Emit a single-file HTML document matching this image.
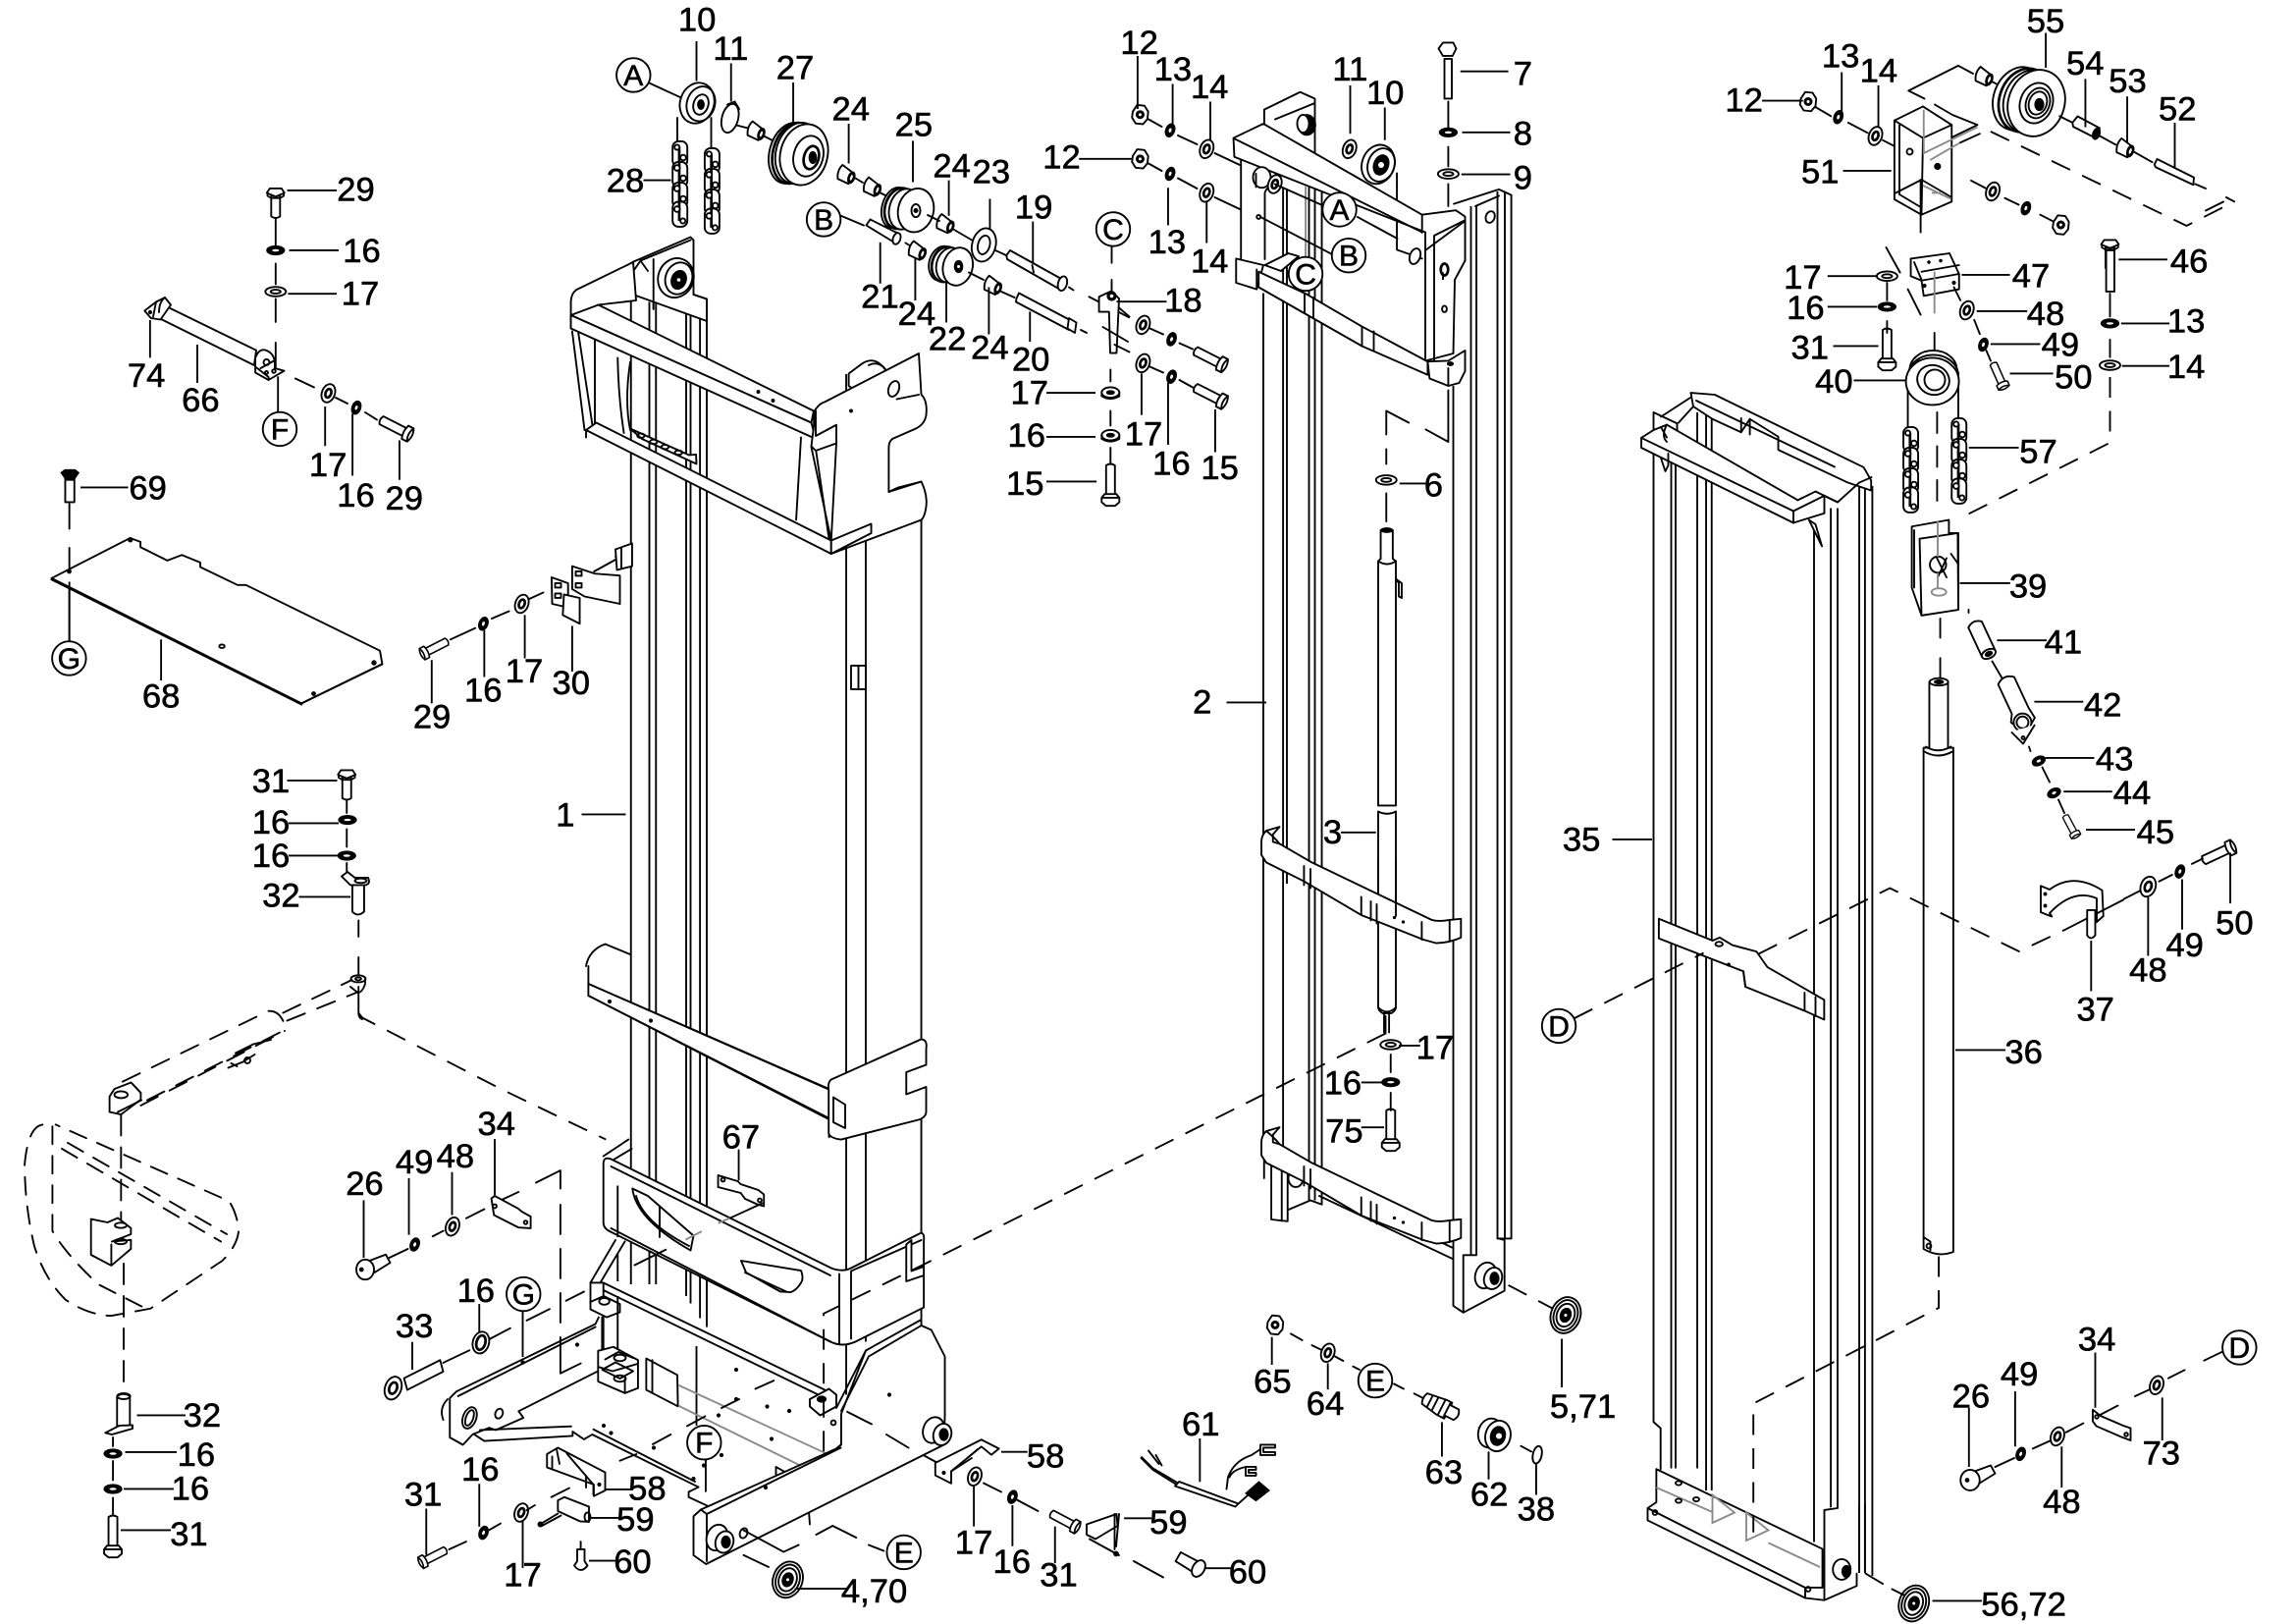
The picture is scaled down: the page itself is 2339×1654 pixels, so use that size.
<!DOCTYPE html>
<html><head><meta charset="utf-8"><title>Mast exploded view</title>
<style>
html,body{margin:0;padding:0;background:#fff}
svg{display:block}
text{font-family:"Liberation Sans",sans-serif;fill:#000;stroke:#000;stroke-width:.4;text-anchor:middle}
.l text{font-size:23.2px}
.c{font-size:20px}
.m{fill:none;stroke:#000;stroke-width:1.25;stroke-linejoin:round;stroke-linecap:round}
.h{fill:none;stroke:#000;stroke-width:1.8;stroke-linejoin:round}
.w{fill:#fff;stroke:#000;stroke-width:1.25;stroke-linejoin:round}
.t{fill:none;stroke:#000;stroke-width:1.25}
.d{fill:none;stroke:#000;stroke-width:1.25;stroke-dasharray:14 9}
.g{fill:none;stroke:#8a8a8a;stroke-width:1.25}
.b{fill:#000;stroke:#000;stroke-width:.8}
</style></head><body>
<svg xmlns="http://www.w3.org/2000/svg" width="2339" height="1654" viewBox="0 0 1559.33 1102.67">
<defs>
<g id="wd"><ellipse rx="3" ry="4.6" transform="rotate(20)" class="b"/><ellipse rx=".9" ry="1.5" transform="rotate(20)" fill="#fff"/></g>
<g id="wf"><ellipse rx="4.4" ry="6.4" transform="rotate(20)" class="w"/><ellipse rx="1.9" ry="3" transform="rotate(20)" class="h"/></g>
<g id="hf"><ellipse rx="7" ry="3.2" class="w"/><ellipse rx="3.4" ry="1.3" class="m"/></g>
<g id="hd"><ellipse rx="6" ry="3" class="b"/><ellipse rx="2.4" ry=".8" fill="#fff"/></g>
<g id="nut"><path class="w" d="M-5-2-2-6.5 3-6 5.5-2 5 3 2 6.5-3 6-5.5 2Z"/><circle r="2.6" class="b"/><circle r="1" fill="#fff"/></g>
<g id="ibolt"><path class="w" d="M-19-3L-1-3-1 3-19 3Q-21 0-19-3Z"/><path class="w" d="M-1-5L3-5Q5.5 0 3 5L-1 5Q-3 0-1-5Z"/><path class="m" d="M3-5Q.5 0 3 5"/></g>
<g id="vbolt"><path class="w" d="M-3-12V10H3V-12Q0-14-3-12Z"/><path class="w" d="M-6 10L-4 7.5H4L6 10V13L3 15.5H-3L-6 13Z"/><path class="m" d="M-6 10H6"/></g>
<g id="vboltT"><path class="w" d="M-3 10V-4H3V10Q0 12-3 10Z"/><path class="w" d="M-6-6L-4-9H4L6-6-0-3.5Z"/><path class="m" d="M-5.5-5.5V-4L-3-2.5H3L5.5-4V-5.5"/></g>
<g id="chain"><g class="w"><rect x="-5" y="-29" width="10" height="17" rx="4"/><rect x="-5" y="-15" width="10" height="17" rx="4"/><rect x="-5" y="-1" width="10" height="17" rx="4"/><rect x="-5" y="12" width="10" height="17" rx="4"/></g><path class="h" d="M-.5-25V25" stroke-width="2.6"/><g class="w" stroke-width="1.2"><circle cx="-2" cy="-25" r="1.7"/><circle cx="2.2" cy="-18" r="1.9"/><circle cx="-2" cy="-11" r="1.9"/><circle cx="2.2" cy="-4" r="1.9"/><circle cx="-2" cy="3" r="1.9"/><circle cx="2.2" cy="10" r="1.9"/><circle cx="-2" cy="17" r="1.9"/><circle cx="2" cy="25" r="1.7"/></g></g>
<g id="bush"><path class="w" d="M-5-5L4-3Q6.5 1 4 5L-4 5Q-7 0-5-5Z" transform="rotate(25)"/><ellipse cx="3.5" cy="2" rx="2.2" ry="4" transform="rotate(20 3.5 2)" class="b"/><ellipse cx="3.5" cy="2" rx=".8" ry="2" transform="rotate(20 3.5 2)" fill="#fff"/></g>
<g id="roll"><ellipse rx="10" ry="12.5" transform="rotate(20)" class="w"/><ellipse rx="8" ry="10.5" transform="rotate(20)" class="m"/><ellipse rx="6" ry="8" transform="rotate(20)" class="m"/><ellipse rx="3.6" ry="4.8" transform="rotate(20)" class="b"/><circle r="1" fill="#fff"/></g>
</defs>

<!-- PART 1 : rails -->
<path class="t" d="M428.5 178V872M441 205V872M445.5 205V872M466 205V880M469 205V885M475.4 205V895M480 203V901M574.7 254V947M588 261V911M443.8 178V210"/>
<path class="w" d="M429.5 178L469 161 471 163V200L480 203V218L430 200Z"/>
<path class="m" d="M435 177L469 163M429.5 185L435 177 440 184M443.8 176V210M471 200L480 203"/>
<ellipse cx="459" cy="188.7" rx="12" ry="13.5" transform="rotate(20 459 188.7)" class="w"/><ellipse cx="461" cy="189" rx="9" ry="11" transform="rotate(20 461 189)" class="m"/><ellipse cx="461" cy="190" rx="5" ry="6.5" transform="rotate(20 461 190)" class="b"/><circle cx="461" cy="190" r="1.2" fill="#fff"/>
<!-- top frame -->
<path class="w" d="M387.7 223V205Q388 198 393 196L430 178 432 204 406 207Z"/>
<path class="m" d="M392.8 226L402.7 291M388.6 225L397 292M404 230V291M419.5 243Q420 270 423.7 294M428 246Q424 272 428 292"/>
<path class="w" d="M387.7 214L406.4 207 552.6 279 551 287Z"/>
<path class="w" d="M387.7 214V223L554 298 551 287Z"/>
<path class="w" d="M576.4 253.7L584 248Q594 240 602 252L588.3 262V270L576.4 262Z"/>
<path class="m" d="M590 248A9 10 0 0 1 602 252"/>
<path class="w" d="M552.6 280Q556 274 560 273L624 240 625.7 268Q630 272 629 282 628 288 622 291L606 298Q603.6 300 603.6 304V334L625.7 327Q630 336 629 344 628 351 625.7 353L564.5 376 553 298Z"/>
<ellipse cx="607" cy="264" rx="3.5" ry="5.5" transform="rotate(20 607 264)" class="m"/><path class="m" d="M609 271L624 268M603.6 334L610 331 625.7 327"/>
<path class="w" d="M554 279V296L568 288.5V301L554 306 551 303Z"/>
<path class="m" d="M544 297L540.7 353M551 303.5L564.5 367M568 301L564.5 367"/>
<path class="w" d="M398 292L405 287 564.5 367V376Z"/>
<path class="w" d="M564.5 367L591.7 355.7V362L564.5 376Z"/>
<path class="m" d="M398 292V297"/>
<path class="w" d="M428 291L468 309 472.7 308.6 473 315 436 298Z"/>
<g class="m"><ellipse cx="435.3" cy="295.8" rx="2.5" ry="1.5"/><ellipse cx="443.8" cy="300" rx="2.5" ry="1.5"/><ellipse cx="451.6" cy="303.5" rx="2.5" ry="1.5"/><ellipse cx="460.8" cy="307.3" rx="2.5" ry="1.5"/></g>
<circle cx="515" cy="266" r=".9" class="b"/><circle cx="525" cy="272" r=".9" class="b"/><circle cx="578" cy="279" r=".9" class="b"/>
<path class="m" d="M429 372L418 378"/>
<rect x="578" y="452" width="10" height="16" class="w"/><path class="m" d="M583 452V468"/>
<path class="t" d="M625.7 353V706M625.7 755V842M625.7 885V900"/>
<!-- mid cross bar -->
<path class="m" d="M398 656Q400 645 411 641L428 648"/>
<path class="w" d="M399.6 656V668L564.5 740 566 770 563 772V760L399.6 676Z"/>
<path class="w" d="M399.6 668L564.5 740.4V760L399.6 676Z"/>
<path class="w" d="M564.5 733L625.7 705.6Q630 706 629 712V723L615.5 728V743L629 738V755Q629 758 625 760L571.3 773.7Q564 773 562.8 769.5V740Q562 735 564.5 733Z"/>
<path class="w" d="M566 745L574 750 574 766 566 762Z"/>
<circle cx="414" cy="680" r="1" class="b"/><circle cx="442" cy="693" r="1" class="b"/>
<path class="m" d="M409.8 785L426.8 773.7M414 789L429 780"/>
<path class="d" d="M243.5 687.7L246 691 339.4 739 411.5 773.7"/>
<!-- lower band -->
<path class="w" d="M409.8 790Q410 785 415 787L564.5 861Q572 864 578 861L625.7 837Q628 838 627.4 842V887.7L581 911Q572 915 564 911L414 836Q409.8 834 409.8 830Z"/>
<path class="m" d="M415 792L564 866M578 863V909M570 865V912M578 863L625.7 842M415 834L564 911"/>
<path class="w" d="M429.5 807Q432 828 469 849L471 839 440 812Z"/>
<path class="m" d="M432 812Q437 830 468 846M448 819V840"/>
<path class="w" d="M503.3 856L544 862.7Q546 868 544 871 541 876 537 877.4L530 877 506.7 864Z"/>
<path class="m" d="M506 864L534 877"/>
<path class="w" d="M615.5 845V870L627.4 866V860L619 863 619 842Z"/>
<!-- clip 67 -->
<path class="w" d="M487.7 798L501 802 503 804 515 808 518.8 811V819L515 818 506 814 503 810 487.7 806Z"/><circle cx="491" cy="801" r="1.3" class="m"/><circle cx="516" cy="815" r="1.3" class="m"/>
<path class="m" d="M517.7 817L495.5 827.2M452.2 848.5L431 859"/><path class="g" d="M495.5 827.2L487.7 830.5M476.6 836.1L465.5 841.7"/>
<path class="m" d="M501.7 781V801"/>
<!-- base -->
<path d="M409.8 871L568 947.5 570 958 565 975 541 960 409.8 900Z" fill="#fff"/>
<path class="m" d="M409.8 871L568 947.5M409.8 876L566 952M409.8 871V917M401 870.9L418 842M407.7 870.9L424.4 842.9"/>
<path class="m" d="M401 870.9V885M401 871L409.8 871"/>
<path class="w" d="M401 884L410 880 421 885.4V891L412 894.4 401 889Z"/><ellipse cx="410.4" cy="883.6" rx="3.5" ry="2.3" class="m"/><path class="m" d="M408.9 894.4V917"/>
<path class="t" d="M419.5 805V840M419.5 851V870M419.5 880V923M473 914V968"/>
<path d="M305.5 949.3L310 944.8 404.4 899 406 917 405.5 931.3 352.2 958.2 355.5 962.7 336.6 971 321 973.9 314.4 981 305.5 976Z" fill="#fff"/>
<path class="m" d="M305.5 949.3L310 944.8 404.4 899 406.6 894.4M305.5 949.3V976L314.4 981 321 973.9 332.2 969.4 336.6 971 355.5 962.7 352.2 958.2 405.5 931.3M311 948L404.4 901M304 950Q298 956 301 964"/>
<ellipse cx="318.9" cy="962.7" rx="4.5" ry="7.5" transform="rotate(20 318.9 962.7)" class="m"/><ellipse cx="318.9" cy="962.7" rx="2.5" ry="5.5" transform="rotate(20 318.9 962.7)" class="m"/>
<ellipse cx="338.9" cy="959.8" rx="2.5" ry="3.4" transform="rotate(20 338.9 959.8)" class="m"/>
<circle cx="392" cy="913" r="1" class="b"/><circle cx="355" cy="925" r="1" class="b"/>
<path class="w" d="M406.2 917.2L416.6 914.5 433.3 923.5V942.5L424.4 945.9 406.2 938Z"/>
<path class="m" d="M406.2 928L416 931 433 926M409 930L418 925 430 931 421 936ZM411 923L420 918 430 922M424.4 936V945.9"/>
<ellipse cx="421" cy="922" rx="4" ry="2.2" class="m"/><ellipse cx="421" cy="936" rx="4" ry="2.2" class="m"/>
<path class="m" d="M438.9 922.4L460 933.6 460.4 954.9 438.9 943.7ZM443 923.5V946"/>
<path class="g" d="M460.8 940.5L578 994.7V1000.3L564.5 1005.3 460.8 954.5M557.7 997.5L564.5 1005.3M557.7 997.5L578 994.7"/>
<path class="m" d="M527 996V1022M527 996L548 1008 550 1035"/>
<circle cx="500" cy="930" r="1" class="b"/><circle cx="500" cy="950" r="1" class="b"/><circle cx="488" cy="961" r="1" class="b"/><circle cx="521" cy="955" r="1" class="b"/><circle cx="524" cy="977" r="1" class="b"/><circle cx="536" cy="958" r="1" class="b"/><circle cx="490" cy="988" r="1" class="b"/><circle cx="410" cy="968" r="1" class="b"/><circle cx="415" cy="973" r="1" class="b"/><circle cx="444" cy="983" r="1" class="b"/><circle cx="478" cy="995" r="1" class="b"/><circle cx="471" cy="1004" r="1" class="b"/>
<path class="m" d="M322 973.9L328.9 978.4 388.9 975V972L396.6 977.3 402.2 974 474.4 1009.7 467.7 1013V1016.5L484.4 1024.3M326 971L388 968.5M403 970.5L472 1006"/>
<!-- right base side -->
<path class="w" d="M625.7 900L632.5 903 641.7 921V961L641 981 479.5 1062 471 1056V1029.5L476 1025 568 983.6 571.3 981V960L588 917 625.7 896Z"/>
<path class="m" d="M568 956L588 917M571.3 958L590 921M625.7 900L590 921M476 1025L480 1028V1060M568 983.6L571 981M480 1028L571 983"/>
<path class="w" d="M550 950L563 943 568 947V955L557 961 550 955Z"/><ellipse cx="558" cy="950" rx="3" ry="2" class="b"/>
<circle cx="566" cy="966" r="1.6" class="m"/><circle cx="604" cy="947" r="1" class="b"/><circle cx="520" cy="1010" r="1" class="b"/>
<g><ellipse cx="634" cy="971" rx="7" ry="9" transform="rotate(20 634 971)" class="w"/><ellipse cx="640" cy="974" rx="6" ry="7.5" transform="rotate(20 640 974)" class="w"/><ellipse cx="641" cy="974" rx="3" ry="4" class="b"/></g>
<g><ellipse cx="487" cy="1044" rx="7" ry="9" transform="rotate(20 487 1044)" class="w"/><ellipse cx="492" cy="1047" rx="6" ry="7.5" transform="rotate(20 492 1047)" class="w"/><ellipse cx="493" cy="1047" rx="3" ry="4" class="b"/></g>
<ellipse cx="505" cy="1041" rx="2.5" ry="3.5" transform="rotate(20 505 1041)" class="m"/>
<use href="#roll" x="535" y="1072.6"/>
<g class="m"><path d="M505 1039L532.2 1053.7 542.4 1049M554.3 1042L565.5 1036 581.5 1044M590 1049L600.2 1053M505 1055.9L522 1064"/>
<path d="M421 991.8L432.2 987.3M443.3 980.6L455.5 974M466.6 968.3L478.9 961.6M490 956L502 950M513 943L525.5 937.4M575.4 958.6L592 967M602 974L617 983M627 988L640 995M668 1007L680 1013M690 1018L705 1026M740 1045L760 1056M770 1060L790 1071"/>
<path d="M364 803L380.6 794.7V807M380.6 818V838M380.6 848V868M380.6 878V898M380.6 908V932.5L394.4 925.7M384.4 883.2L396.6 877M357.7 896.6L373.3 888.8M331 910L346.6 901.8M352.2 809.3L340 815M328.9 821L316.6 827.2"/></g>
<path class="d" d="M941 701.7L627.4 858.5 559.4 891.9V986"/>
<path class="m" d="M941 701.7V690"/>

<!-- PART 2 -->
<path class="t" d="M858 199V783M871.4 128V783M874 128V600M889 126V815M893 126V815M897.7 126V818M987 262V886.6M999 140V852M1002.7 140V852M1017 130V841M1022 130V841M1026.4 132V841"/>
<path class="m" d="M987 886.6L993.8 891.2 1021.8 876.4V842L1017 840.7M993.8 891.2V852.2H1002.7M1017 841H1026.4"/>
<path class="m" d="M863.4 783V828L874.5 829.2V821.6L890 815 897.8 817.8M870.5 783V829M874.5 783V829M858.5 783V800"/>
<ellipse cx="880" cy="800" rx="5" ry="6" class="m"/>
<path class="m" d="M896 812L986.7 854.8M905 808L986 847"/>
<ellipse cx="1009" cy="866" rx="7" ry="9" transform="rotate(20 1009 866)" class="w"/><ellipse cx="1014" cy="868" rx="6" ry="7.5" transform="rotate(20 1014 868)" class="w"/><ellipse cx="1015" cy="868" rx="3" ry="4.2" class="b"/>
<path class="d" d="M1024.4 872.6L1054.4 888.4"/>
<use href="#roll" x="1063.3" y="893"/>
<path class="m" d="M858.6 74.4L883 62.5 893 67V110M893 70L866 81M858.6 74.4V88"/>
<ellipse cx="887.5" cy="84.8" rx="6" ry="7" class="b"/><ellipse cx="885" cy="84" rx="4" ry="6" class="w"/>
<path class="m" d="M987.4 138.4L1018 128.6 1026.4 132.4M1002 140L1018 133"/>
<ellipse cx="1012.2" cy="147.3" rx="3" ry="4" transform="rotate(20 1012 147)" class="m"/>
<path class="m" d="M842.8 108.6V180M859 131V176M859 131Q860 127 866 125M948.7 117.6V140M948.7 150V169.6L965.8 175.6"/>
<use href="#wf" x="916.5" y="101.2"/>
<ellipse cx="936" cy="111.6" rx="11" ry="13.5" transform="rotate(20 936 111.6)" class="w"/><ellipse cx="938" cy="112" rx="9" ry="11.5" transform="rotate(20 938 112)" class="m"/><ellipse cx="938" cy="112" rx="5" ry="7" transform="rotate(20 938 112)" class="b"/><circle cx="938" cy="112" r="2" fill="#fff"/>
<path class="w" d="M837.7 93.7L858 84 965.8 145.8 988.7 142.8 995 147V177L968 178V157.7L838.3 106.5Z"/>
<path class="m" d="M838 94L965.8 157.7M965.8 146V158"/>
<path class="w" d="M968 170L995 150V177L988 190 987 240 968 245Z"/>
<path class="m" d="M974 160V246M994 150L974 160"/>
<ellipse cx="961" cy="174" rx="3.5" ry="5.5" transform="rotate(20 961 174)" class="w"/>
<ellipse cx="981" cy="183" rx="2.5" ry="4" class="h"/><ellipse cx="981" cy="209.8" rx="1.6" ry="2.2" class="m"/>
<path class="t" d="M980 185V190"/>
<path class="w" d="M839.5 175.6L858 180 853.5 196.4 839.5 192Z"/><path class="m" d="M853.5 183V196.4"/>
<path class="w" d="M854.8 184.5L886.7 199.4 925 221.7 969.6 245.5V254.5L925 235 854.8 195Z"/>
<path class="m" d="M886 199V212M892 202V216M925 222V235M933 225V238"/>
<path class="w" d="M859 180L875 172 882 174 870 184Z"/>
<path class="w" d="M969.6 245.5L983.6 245 995 238V252L991 260 983.6 262 970.9 257Z"/><path class="m" d="M983.6 250V262"/><ellipse cx="985" cy="247" rx="2" ry="1.2" class="b"/>
<ellipse cx="857" cy="120.5" rx="6" ry="7" class="w"/><path class="m" d="M853 118V127"/><use href="#wf" x="865.8" y="125"/>
<circle cx="854.8" cy="147.3" r="1.3" class="m"/>
<path class="g" d="M886.7 126V175"/>
<path class="m" d="M865.8 125L899.5 140M921.9 147.3L949 162M856 147.3L904.6 172.6"/>
<path class="w" d="M981 40V67H986V40ZM977 33L980 29H987L989 33 986.5 38H980Z"/>
<path class="m" d="M983.6 69V88M983.6 99.7V113M983.6 125V140"/><use href="#hd" x="983.6" y="89.9"/><use href="#hf" x="983.6" y="118.1"/>
<path class="m" d="M983.6 265V284M983.6 284V300L968.3 291.6M956.8 287L941.5 279V295M941.5 305V315M941.5 335V354"/>
<use href="#hf" x="941.5" y="325.9"/>
<path class="w" d="M937.7 360H945.9V379.4L948 381V547L936 547V381L937.7 379.4Z"/>
<ellipse cx="941.8" cy="360" rx="4" ry="1.5" class="b"/>
<path class="m" d="M936 381Q942 385 948 381M948 393L952 396V406L950 405V396Z"/>
<path class="w" d="M936 551Q942 554 948 551V684Q942 690 936 684Z"/>
<path class="m" d="M936 684Q936 686 939 688H945Q948 686 948 684M940 689V701M943.4 689V701"/>
<!-- bands -->
<g><path class="w" d="M869 561.4L860 564Q856.7 567 856.7 571.6V580.5L860 585.6 885.6 598.4 924.5 621.3 966.7 638 975.6 640.4Q985 640 992.2 636.6V623.9L984.5 624.6Q977 626 972.3 624.6L891 585.6 869 572.9 864.5 571.6V566.5Z"/>
<path class="m" d="M860 564Q866 569 869 572.9M885.6 588V601M890 590V603M924.5 609V621M931 612V625M935 614V627M965.6 626V638M984.5 624.6V639"/><circle cx="947" cy="623" r=".7" class="b"/><circle cx="953" cy="626" r=".7" class="b"/></g>
<g transform="translate(0,204)"><path class="w" d="M869 561.4L860 564Q856.7 567 856.7 571.6V580.5L860 585.6 885.6 598.4 924.5 621.3 966.7 638 975.6 640.4Q985 640 992.2 636.6V623.9L984.5 624.6Q977 626 972.3 624.6L891 585.6 869 572.9 864.5 571.6V566.5Z"/>
<path class="m" d="M860 564Q866 569 869 572.9M885.6 588V601M890 590V603M924.5 609V621M931 612V625M935 614V627M965.6 626V638M984.5 624.6V639"/><circle cx="947" cy="623" r=".7" class="b"/><circle cx="953" cy="626" r=".7" class="b"/></g>
<path class="m" d="M948 584V622M936 584V606"/>
<use href="#hf" x="944.5" y="709.3"/><use href="#hd" x="944.5" y="734.8"/><use href="#vbolt" x="944.5" y="766"/>
<path class="m" d="M944.5 716V728M944.5 742V754"/>

<!-- PART 35 -->
<path class="t" d="M1123 292V965.5M1135 300V997M1138 300V997M1152.7 280V997M1158.7 280V1012M1162.5 280V1012M1232 355V1047M1243.4 345V1024M1248 345V1022M1262.7 330V1068M1266.6 330V1068M1271.6 330V1070"/>
<path class="m" d="M1123 965.5L1127.8 969.7V997.5"/>
<path class="w" d="M1148.3 266.7L1164.6 268 1265.7 317.3 1270.8 326.2V333L1255 327.7 1207.7 305.4V296.5L1188.4 284.5 1182.5 293.5 1163 284.5 1150 276Z"/>
<path class="m" d="M1152 272L1246 317M1182.5 284V293.5M1188.4 284.5V295"/>
<path class="m" d="M1123 280L1139 287.5V300M1123 280V293M1128 283L1148 270M1140 287L1150 276"/>
<path class="m" d="M1233 333.7L1248 341 1262.7 327.7 1271 324"/>
<path class="w" d="M1114.7 297.3V304L1218 355 1239 348.5V336.6L1248 341 1233 333.7 1221 339.6 1132 288.4 1123 292Z"/>
<path class="m" d="M1114.7 297.3L1218 347V355M1218 347L1239 336.6M1128 290L1132 297M1132 288.4Q1128 296 1132 300"/>
<path class="w" d="M1228.5 353L1233 356 1237.4 370.9Z"/>
<path class="m" d="M1128 311L1131 320 1133 316V308"/>
<path class="w" d="M1126.6 623.8L1163.1 638.7 1168 636.6 1176.5 641.7 1192.9 646.1 1200.3 656.6 1238.9 678.9V692.3L1225.6 686.3 1185.4 670 1184 659.5 1126.6 637.2Z"/>
<path class="m" d="M1225.6 674V686M1233 677V690M1184 659.5L1185.4 670"/><ellipse cx="1167.5" cy="641" rx="2.5" ry="1.5" class="m"/><circle cx="1174" cy="655" r=".9" class="b"/>
<!-- bottom 35 -->
<path d="M1124.9 997.5L1237.7 1051.7 1239 1025 1248 1022H1262V1076.8L1239 1086.5 1226 1085 1119 1032.3V1024L1124.9 1020Z" fill="#fff"/>
<path class="t" d="M1262.7 1022V1068M1266.6 1022V1068"/>
<path class="m" d="M1124.9 997.5L1237.7 1051.7M1124.9 997.5V1020M1124.9 1020L1119 1024V1032.3L1226 1085 1239 1086.5 1261 1076.8V1068.4M1119 1024L1226 1078V1085M1239 1025.3V1086.5M1239 1025.3L1248 1024V1022M1226 1078L1237.7 1078V1051.7"/>
<path class="g" d="M1124.9 1010L1163 1026.7M1201 1047.6L1236 1064"/>
<path class="g" d="M1163 1015L1178 1027 1163 1034ZM1186 1027L1201 1039 1186 1046Z"/><path class="m" d="M1190.8 1030V1040"/>
<g class="m"><ellipse cx="1140" cy="1007" rx="2" ry="1.4"/><ellipse cx="1152" cy="1018" rx="2" ry="1.4"/><ellipse cx="1140" cy="1019" rx="2" ry="1.4"/><circle cx="1124" cy="1027" r="1.6"/><circle cx="1228" cy="1079" r="1.6"/></g>
<ellipse cx="1250.8" cy="1065.6" rx="6" ry="7" class="w"/><ellipse cx="1254" cy="1067" rx="3" ry="4" class="b"/>
<use href="#roll" x="1299.8" y="1088.7"/>
<path class="m" d="M1267 1068.4L1278.7 1075.4M1285 1079L1293 1083"/>
<path class="d" d="M1316.7 853V888L1190.8 953V1028"/>
<path class="w" d="M1310.3 463H1323V507.7H1326.6V850Q1316 854 1306.4 848V507.7H1310.3Z"/>
<ellipse cx="1316.8" cy="463" rx="6.3" ry="2.5" class="w"/><ellipse cx="1316.8" cy="463" rx="3" ry="1.3" class="b"/>
<path class="m" d="M1306.4 510Q1316 516 1326.6 510M1308 507Q1316 512 1325 507M1306.4 840L1311 843 1311 849"/><circle cx="1310" cy="846" r="1.6" class="m"/>
<path class="d" d="M1069 691.5L1157 647"/>
<path class="d" d="M1194.3 647.7L1283.5 603 1371.2 646 1402.4 631.3"/>
<path class="w" d="M1386 601.5L1392 604Q1408 592 1427.7 604.5L1428.5 622 1424 626V610Q1408 603 1392 620L1393.5 622.3 1386 619.4Z"/>
<path class="m" d="M1402.4 631.3L1442 611"/>
<path class="w" d="M1417.5 618H1423V635Q1420 639 1417.5 635Z"/><circle cx="1389" cy="607" r=".9" class="b"/><circle cx="1389" cy="615" r=".9" class="b"/>
<g transform="translate(1458.9 602)"><ellipse rx="5" ry="7" transform="rotate(20)" class="w"/><ellipse rx="2.2" ry="3.4" transform="rotate(20)" class="h"/></g>
<use href="#wd" x="1480.5" y="591.7"/>
<g transform="translate(1514 576) rotate(-25)"><use href="#ibolt"/></g>
<path class="m" d="M1442.5 610.4L1453 605M1466.3 598.5L1475.2 594M1488.6 586.6L1496 583"/>

<!-- Right top group -->
<use href="#nut" x="1228" y="69"/><use href="#wd" x="1248.5" y="79.5"/><use href="#wf" x="1273.7" y="92.3"/>
<path class="m" d="M1233.3 72.9L1243.5 78.9M1255.2 83.3L1268.4 90.2M1278.7 95.2L1296 104"/>
<path class="d" d="M1351.9 89.3L1485 153.3 1517.4 136.9"/>
<path class="m" d="M1517.4 136.9L1512 134M1498 143L1510 137M1330 44.6L1296.2 61.6 1307 67M1330 44.6L1340 50M1314 71L1326 78 1343 84.8 1320 96M1344.6 90.8L1331 97"/>
<path class="w" d="M1286.6 81.8L1306 72.3 1325.5 84.8V136.9L1305 145.8 1286.6 135.4Z"/>
<path class="m" d="M1286.6 81.8L1306 93.7 1325.5 84.8M1306 93.7L1305 145.8M1290 85V132L1305 141M1287.5 131L1305 122 1325.5 134"/>
<path class="g" d="M1306.5 74.4V104L1343 86.3M1331 97L1310.9 108.6M1306 126L1325 135M1312 131H1318"/>
<circle cx="1297" cy="103" r="2" class="m"/><circle cx="1315.9" cy="113" r="2" class="b"/>
<path class="m" d="M1304.4 122V157.7"/>
<use href="#wf" x="1353.4" y="130"/><use href="#wd" x="1375.9" y="141.4"/><use href="#nut" x="1399.6" y="152.7"/>
<path class="m" d="M1338.7 122.6L1349 128M1361.6 134.5L1371 139M1385.6 145.8L1394.4 150.3"/>
<use href="#bush" x="1347.5" y="52"/>
<path class="m" d="M1352 55L1359.2 58.6"/>
<ellipse cx="1371" cy="67" rx="17" ry="22" transform="rotate(20 1371 67)" class="w"/><ellipse cx="1375" cy="68" rx="17" ry="22" transform="rotate(20 1375 68)" class="h" style="fill:#fff"/><ellipse cx="1379" cy="69" rx="18" ry="22" transform="rotate(20 1379 69)" class="w"/>
<ellipse cx="1383" cy="70" rx="19" ry="23" transform="rotate(20 1383 70)" class="w"/><ellipse cx="1383" cy="70" rx="11" ry="14" transform="rotate(20 1383 70)" class="m"/><ellipse cx="1384" cy="70" rx="8" ry="10.5" transform="rotate(20 1384 70)" class="m"/><ellipse cx="1384" cy="70" rx="6" ry="8" transform="rotate(20 1384 70)" class="m"/><ellipse cx="1385" cy="71" rx="3" ry="4" class="b"/>
<path class="w" d="M1407.5 83.3L1411 79 1426 87 1423.7 94 1408 86Z"/><ellipse cx="1423.7" cy="90.8" rx="2.4" ry="4" transform="rotate(20 1423.7 90.8)" class="b"/>
<use href="#bush" x="1443.3" y="100.6"/>
<path class="w" d="M1463.2 111.6L1465 108 1490 120.5 1489.6 125.5 1464 113.5Z"/>
<path class="m" d="M1398.8 78.9L1407 83M1425 91.7L1436.8 98.2M1448.6 102.7L1461.7 110.1M1491 125L1498 128"/>
<path class="m" d="M1281 168L1290.4 185M1295.7 196.4L1304.4 213.7"/>
<path class="w" d="M1297.7 175.6L1324 172 1330.5 186V196.4L1306.5 200.9 1305 190.5 1297.7 187.5Z"/>
<path class="m" d="M1305 190.5L1330.5 186M1305 184.5L1330.5 180M1300 178L1305 190"/>
<path class="g" d="M1313.8 184.5V212.8"/><circle cx="1318" cy="177" r=".8" class="b"/><circle cx="1310" cy="178" r=".8" class="b"/><circle cx="1307" cy="194" r="1" class="b"/><circle cx="1327" cy="192" r="1" class="b"/>
<use href="#hf" x="1281.6" y="187.5"/><use href="#hd" x="1281.6" y="208.3"/><use href="#vbolt" x="1281.6" y="236"/>
<path class="m" d="M1281.6 192V204M1281.6 218V226M1313.8 226V238"/>
<use href="#wf" x="1335.8" y="210.7"/><use href="#wd" x="1347" y="234"/>
<path class="m" d="M1327 195L1331.4 203.9M1340.8 217.2L1344.6 226.8M1349 238L1352 245"/>
<g transform="translate(1360 261) rotate(66)"><use href="#ibolt" transform="scale(.8)"/></g>
<use href="#vboltT" x="1433" y="172"/>
<path class="w" d="M1430.4 170H1436V198H1430.4Z"/>
<path class="m" d="M1433 199.4V214.9M1433 230.6V242.5"/><use href="#hd" x="1433" y="219.6"/><use href="#hf" x="1433" y="248"/>
<path class="d" d="M1433 256V300.6L1332.9 351"/>
<path class="m" d="M1295.7 265V290M1330 253V285"/>
<ellipse cx="1313" cy="251" rx="16" ry="13" class="w"/><ellipse cx="1313" cy="255" rx="17" ry="14" class="w"/>
<ellipse cx="1312.4" cy="259" rx="18" ry="16" class="w"/>
<ellipse cx="1313" cy="258" rx="11" ry="10" transform="rotate(20 1313 258)" class="m"/><ellipse cx="1314" cy="258" rx="7" ry="7" class="m" stroke-width="1.8"/>
<use href="#chain" x="1297.7" y="319"/><use href="#chain" x="1330.5" y="313"/>
<path class="m" d="M1315.6 280V345" stroke-dasharray="14 9"/>
<path class="w" d="M1298.4 357.5L1323.6 353V362L1330 362 1330 414 1305 417.9 1298.4 399Z"/>
<path class="w" d="M1303.7 365.8L1329.6 362 1330 414 1305 417.9Z"/>
<path class="m" d="M1300 360V399M1325 376L1330 383"/>
<circle cx="1316.2" cy="383.4" r="5.5" class="m"/><path class="m" d="M1315 378L1322 392M1322 379L1316 392"/>
<ellipse cx="1316.8" cy="402" rx="5" ry="2.5" class="g"/><path class="g" d="M1316 354V378M1316 389V399"/>
<path class="m" d="M1317.7 420V433M1317.7 446.8V460M1337 414L1337 416"/>
<g transform="translate(1346 434) rotate(-25)"><path class="w" d="M-5-11Q0-15 5-11V11H-5Z"/><ellipse cy="11" rx="5" ry="3" class="w"/><ellipse cy="11" rx="2.5" ry="1.5" class="b"/></g>
<path class="m" d="M1353 449L1360 461"/>
<g transform="translate(1368 474) rotate(-25)"><path class="w" d="M-6-13Q0-18 6-13V10L7 18-3 25-9 14-6 9Z"/></g>
<circle cx="1373.6" cy="490.5" r="6" class="w"/><circle cx="1373.6" cy="490.5" r="4" class="m"/><path class="w" d="M1366 497L1374 505 1382 492"/><circle cx="1374" cy="501" r="1" class="m"/>
<use href="#wd" x="1384.6" y="516.7" transform="rotate(45 1384.6 516.7)"/><use href="#wd" x="1395" y="538.4" transform="rotate(45 1395 538.4)"/>
<path class="m" d="M1378 507L1379 510M1387 521L1392 531M1398 543L1402 552"/>
<g transform="translate(1409 566) rotate(62)"><use href="#ibolt" transform="scale(.7)"/></g>

<!-- top center group -->
<use href="#chain" x="461.8" y="125"/><use href="#chain" x="483.6" y="129.6"/>
<path class="m" d="M441.4 56.6L462.5 66.3M460 80V96M483 80V100M500 85L508 87M518 92L528 97"/>
<ellipse cx="473.4" cy="70" rx="11.5" ry="14" transform="rotate(18 473.4 70)" class="w"/><ellipse cx="476" cy="70.5" rx="9.5" ry="12" transform="rotate(18 476 70.5)" class="m"/><ellipse cx="476" cy="71" rx="5" ry="7" transform="rotate(18 476 71)" class="m" stroke-width="1.6"/><ellipse cx="476" cy="71" rx="2.2" ry="3.2" class="b"/>
<ellipse cx="495.8" cy="80.3" rx="5.5" ry="10" transform="rotate(15 495.8 80.3)" class="m" stroke-width="1.5"/><path class="m" d="M494 71L499 69 502 74"/>
<use href="#bush" x="513.5" y="89"/>
<ellipse cx="536.6" cy="104" rx="14" ry="21" transform="rotate(15 536.6 104)" class="w"/><ellipse cx="539" cy="104" rx="14" ry="21" transform="rotate(15 539 104)" class="h" style="fill:#fff"/><ellipse cx="542" cy="104" rx="15" ry="21" transform="rotate(15 542 104)" class="w"/>
<ellipse cx="546" cy="105" rx="16" ry="21" transform="rotate(15 546 105)" class="w"/><ellipse cx="549" cy="106" rx="10" ry="14" transform="rotate(15 549 106)" class="m"/><ellipse cx="551" cy="107" rx="5" ry="8" transform="rotate(15 551 107)" class="h"/><ellipse cx="552" cy="107" rx="2.5" ry="4" class="b"/>
<use href="#bush" x="574.7" y="118.6"/><use href="#bush" x="592.4" y="127"/>
<path class="m" d="M581 121L586 124M598 131L604 134"/>
<ellipse cx="608" cy="141" rx="9" ry="14" transform="rotate(15 608 141)" class="w"/><ellipse cx="611" cy="141.5" rx="10" ry="14" transform="rotate(15 611 141.5)" class="h" style="fill:#fff"/><ellipse cx="614" cy="142" rx="10" ry="14" transform="rotate(15 614 142)" class="w"/>
<ellipse cx="622" cy="142.8" rx="12" ry="15" transform="rotate(15 622 142.8)" class="w"/><ellipse cx="622" cy="143" rx="3" ry="4.4" class="m"/><circle cx="622" cy="143" r="1.3" class="b"/>
<use href="#bush" x="642" y="152"/>
<path class="m" d="M630 146L638 150M648 156L660 163"/>
<g transform="translate(668.2 166.3)"><ellipse rx="8" ry="11.5" transform="rotate(15)" class="w"/><ellipse rx="4" ry="6.5" transform="rotate(15)" class="m"/></g>
<path class="m" d="M676 170L683.5 173.4"/>
<path class="w" d="M683.5 173.4L686 170 722 190 719 196 684 176Z"/><ellipse cx="721.6" cy="192.5" rx="3" ry="5" transform="rotate(15 721.6 192.5)" class="w"/><path class="m" d="M701 180L702 185M726 195L729 197M739.6 201.5L766.8 215.5"/>
<path class="m" d="M571.3 146.6L586.6 153M615 165L620 168"/>
<path class="w" d="M588.3 153L591 149 611 159 608 165Z"/><ellipse cx="609" cy="162" rx="2.5" ry="4" transform="rotate(20 609 162)" class="w"/>
<use href="#bush" x="623" y="170.3"/>
<ellipse cx="640" cy="179" rx="9" ry="12" transform="rotate(15 640 179)" class="w"/><ellipse cx="642" cy="179.5" rx="9" ry="12" transform="rotate(15 642 179.5)" class="h" style="fill:#fff"/><ellipse cx="645" cy="180" rx="9" ry="12" transform="rotate(15 645 180)" class="w"/>
<ellipse cx="650.5" cy="181" rx="10" ry="13" transform="rotate(15 650.5 181)" class="w"/><ellipse cx="651" cy="181" rx="2.8" ry="4" class="b"/><circle cx="651" cy="181" r="1" fill="#fff"/>
<use href="#bush" x="674.3" y="193.8"/>
<path class="m" d="M658 185L668 190M680 198L689 202"/>
<path class="w" d="M690.3 202.7L692 199 728 218 726 224 690 205Z"/>
<path class="w" d="M726 216L731 219 730 226 725 223Z"/>
<path class="m" d="M734 224L738 226M755 167V178.5M755 190V199"/>
<path class="w" d="M746.4 201.5L754.9 197.6 760 202.7 758.3 239.7 754 239.7 753.2 211.7H746.4Z"/><ellipse cx="755" cy="201" rx="3" ry="3" class="b"/><circle cx="755" cy="201" r="1.2" fill="#fff"/>
<path class="m" d="M760 209L767 215M766 232L749 222"/>
<path class="m" d="M757 234L767 239"/>
<g><use href="#wf" x="776.3" y="220.6"/><use href="#wf" x="776.3" y="246.6"/><use href="#wd" x="795.7" y="230.3"/><use href="#wd" x="795.7" y="255.8"/></g>
<path class="m" d="M781 223L790 227M801 233L810 237M781 249L790 253M801 258L810 263"/>
<g transform="translate(829 247) rotate(27)"><use href="#ibolt"/></g><g transform="translate(829 272) rotate(27)"><use href="#ibolt"/></g>
<use href="#nut" x="774.3" y="77.8"/><use href="#nut" x="774.3" y="107.9"/><use href="#wd" x="794.7" y="88.5"/><use href="#wd" x="794.7" y="118"/>
<use href="#wf" x="819.5" y="101.2"/><use href="#wf" x="819.5" y="130.8"/>
<path class="m" d="M780 81L789 86M800 92L813 98M780 111L789 116M800 121L813 128M825 104L842 112M825 134L842 142"/>
<g transform="translate(754.2 266.5)"><ellipse rx="6" ry="3.5" class="w"/><path class="m" d="M-6 0V2.5Q0 6 6 2.5V0"/><ellipse rx="2.6" ry="1.2" class="b"/></g>
<g transform="translate(754.2 295.5)"><ellipse rx="6" ry="3.5" class="w"/><path class="m" d="M-6 0V2.5Q0 6 6 2.5V0"/><ellipse rx="2.6" ry="1.2" class="b"/></g>
<path class="m" d="M754.2 251V259M754.2 279V289M754.2 304V315"/>
<use href="#vbolt" x="754.2" y="328"/>

<!-- left group: 66, 69, 68, 29-30 -->
<use href="#vboltT" x="187.2" y="137"/>
<path class="m" d="M187.2 148.5V167M187.2 179V193M187.2 203V218.6M187.2 232.6V253"/>
<use href="#hd" x="187.2" y="170"/><use href="#hf" x="187.2" y="198"/>
<path class="w" d="M110.8 207L174 237.8 172.6 248 108 216Z"/>
<path class="w" d="M98.2 211L106 205 112 202 116 207 109 217 102.5 216Z"/><path class="m" d="M106 205L104 215M112 202Q108 205 108 212"/><circle cx="102" cy="212" r="1" class="b"/>
<path class="w" d="M173.4 253V243Q176 236 181 238 186 240 186.6 246V250L193 251.8 182.4 258Z"/><path class="m" d="M177 250L186 245M173.4 249L182.4 256V258"/><circle cx="181" cy="246" r="2" class="m"/><circle cx="186" cy="252" r="1.2" class="m"/><circle cx="181" cy="253" r="1" class="m"/>
<path class="m" d="M200.6 257L213.3 263M228 270L236 274M248 280L256 285"/>
<use href="#wf" x="223" y="267"/><use href="#wd" x="242" y="276.8"/>
<g transform="translate(276 294) rotate(27)"><use href="#ibolt"/></g>
<path class="w" d="M44.3 325H50.5V341H44.3Z"/><path class="b" d="M41.5 321L44 319H51L53.5 321 50 326H45Z"/>
<path class="m" d="M47.1 342V359M47.1 372V435"/>
<path class="w" d="M35 392.6L88.4 365.3 95.4 367.9V371.5L113.6 380.6 123.5 376.8 136 381.9V385L161.3 397.2 167 397.2 258 441.8 259.6 450.8 204.8 477.6Z"/>
<path class="m" d="M35 393.5L204.8 478.4" stroke-width="1.7"/><path class="m" d="M204.8 477.6L259.6 451" stroke-width="1.7"/>
<path class="t" d="M47.1 395V436"/>
<ellipse cx="150.7" cy="438.8" rx="1.8" ry="1.2" class="m"/><circle cx="47" cy="388" r="1.2" class="b"/><circle cx="88.5" cy="366.5" r="1.4" class="b"/><circle cx="254" cy="450" r="1.4" class="b"/><circle cx="213" cy="471" r="1.2" class="b"/>
<g transform="translate(289 443) rotate(-27) scale(-1 1)"><use href="#ibolt" transform="scale(.85)"/></g>
<path class="m" d="M305.9 434.2L322.7 426.5M334 420L345.7 415M357.8 407.4L369 402.3"/>
<use href="#wd" x="328.3" y="423.5"/><use href="#wf" x="354.4" y="410"/>
<path class="w" d="M374.6 392L385.8 396V412.5L375 410Z"/><path class="w" d="M383 403.6L393.7 406V423.5L382.2 417.6Z"/>
<path class="w" d="M388.6 384.4V400L397 405 421 410V390.8L404 389.5Z"/>
<g class="m"><rect x="377" y="396" width="4" height="3"/><rect x="377" y="403" width="4" height="3"/><rect x="391" y="388" width="4" height="3"/><rect x="391" y="396" width="4" height="3"/></g>
<path class="w" d="M418 373L429.3 369V384.4L419 387Z"/><path class="m" d="M422 372V386M403.5 388L418 380"/>

<!-- left cylinder group -->
<use href="#vboltT" x="235.5" y="532"/>
<use href="#hd" x="236" y="556.7"/><use href="#hd" x="235.5" y="581"/>
<path class="m" d="M235.5 543V552M235.5 563V575M235.5 586V592"/>
<path class="w" d="M239.3 600V619Q243 623 247.3 619V600"/>
<path class="w" d="M232 595L236 592 241 596 250 596Q252 600 248 601H238Z"/><ellipse cx="245" cy="598" rx="4" ry="1.5" class="m"/>
<path class="m" d="M243.5 625V636M243.5 650V662M243.5 670V688Q243.5 691 246 692"/>
<ellipse cx="243.3" cy="664.6" rx="5" ry="2.4" class="w"/><ellipse cx="243.3" cy="664.6" rx="2" ry="1" class="m"/><path class="m" d="M248 664V668Q246 674 243 674L238 670"/>
<g stroke-dasharray="13 9"><path class="m" d="M83.3 734.4L182.2 686.5Q190 686 193.3 695.8M95.6 750.6L193.3 700M192.2 687.7L238.9 665.4M195 693L243.3 673.5M100 747L192 700"/></g>
<path class="w" d="M74.4 744.5V755L82.2 756.7 95.6 746.6V742L89 735 77.8 739.3Z"/><ellipse cx="82.2" cy="743.3" rx="4.5" ry="2.3" class="m"/>
<path class="m" d="M90 736L95.6 742M80 755L96 747"/>
<path class="m" d="M155 725L165 721 173 716M160 715L172 709 184 706M157 722L161 724"/>
<circle cx="168" cy="720" r="2" class="m"/>
<g stroke-dasharray="12 8"><path class="m" d="M28.9 763.6Q19 765 16.7 791 17 820 23.3 846 30 868 44.4 882.4 60 893 75.6 893.4L102.2 888.5 151 856Q162 845 162.2 833.8 160 822 155.5 815.5L37.8 763.6"/>
<path class="m" d="M35.6 764.8V835.8Q45 852 66.7 872L102 890M42 780L150 843M46 776L154 838"/></g>
<path class="m" d="M82.2 757V830" stroke-dasharray="14 8"/>
<path class="w" d="M61.8 827.7L73 830 80 827 88.9 833.8V838L76 843 88.9 841.9V848L75.6 859.3 61.8 852Z"/><ellipse cx="82" cy="832" rx="4" ry="1.8" class="m"/><ellipse cx="82" cy="843" rx="4" ry="1.8" class="m"/><path class="m" d="M75.6 845V859"/>
<path class="m" d="M84 858V945" stroke-dasharray="14 8"/>
<path class="w" d="M79.5 948V970H88.2V948Q84 945 79.5 948Z"/><ellipse cx="84" cy="948" rx="4.4" ry="2" class="m"/>
<path class="w" d="M71.5 972.9L81 968 90 967.6V970L76 974Z"/>
<path class="m" d="M76.7 976V982M76.7 992V1005M76.7 1017V1028"/><use href="#hd" x="76.7" y="987"/><use href="#hd" x="76.7" y="1011"/>
<use href="#vbolt" x="76.7" y="1042"/>

<!-- bottom-left parts -->
<path class="w" d="M333.7 813.7L336 812 352 820.6 354.4 822.7 360.4 826V834L352.2 833.5 335.5 825Z"/><circle cx="336" cy="819" r="1.3" class="m"/><circle cx="357" cy="830" r="1.2" class="m"/>
<use href="#wf" x="307.3" y="832.8"/><use href="#wd" x="281.7" y="845"/>
<path class="m" d="M264.4 854L277 848M293.8 839.5L301.1 835.7"/>
<path class="w" d="M251 856L262 851.8 265 857.4 254.4 864Z"/><ellipse cx="248" cy="862" rx="6" ry="6.8" class="w"/><circle cx="245.5" cy="862" r="1.2" class="b"/>
<path class="w" d="M274.4 935.8L298.9 923.5 301 931.3 276.6 943.7Z"/>
<ellipse cx="267" cy="942.5" rx="5.5" ry="8" transform="rotate(20 267 942.5)" class="w"/><ellipse cx="267" cy="942.5" rx="2.6" ry="4" transform="rotate(20 267 942.5)" class="h"/>
<path class="m" d="M301 925.3L318.9 916.8"/>
<g transform="translate(326.6 911.6)"><ellipse rx="5.5" ry="7.5" transform="rotate(15)" class="w"/><ellipse rx="3" ry="5" transform="rotate(15)" class="h"/></g>
<path class="w" d="M371.5 987.3L378.9 983 411 999.7V1012L403.3 1015.8V1008L371.5 996.3Z"/><path class="m" d="M375 989V997M378 984L380 994M385 987L403 1008V1015M398 1002V1010"/><circle cx="407" cy="1008" r="1" class="b"/>
<path class="w" d="M378.9 1018.7L383.3 1016.5 400 1023V1033.3L394 1033 378.9 1026Z"/><path class="m" d="M378.9 1027.7L367.7 1034.4M381 1029L368 1036"/><ellipse cx="367" cy="1035" rx="1.6" ry="1.6" class="b"/><ellipse cx="399" cy="1030" rx="2" ry="3" class="m"/>
<use href="#wf" x="354" y="1027"/><use href="#wd" x="328.4" y="1040.7"/>
<path class="m" d="M316.6 1046.7L305 1052M332.2 1038.9L340 1034.4M357.7 1025.4L363.3 1022M374.4 1016.5L386.6 1010.4M394.4 1046.7V1051"/>
<g transform="translate(288 1060) rotate(-27) scale(-1 1)"><use href="#ibolt" transform="scale(.85)"/></g>
<path class="w" d="M392 1052H397V1060L399 1063Q394.4 1069 390 1063L392 1060Z"/>
<path class="w" d="M635.2 993.3L666.5 977.5 678.4 983.6 673.3 987.8 666.5 982.2 646 998.9V1007.2L635.2 1001.7Z"/><path class="m" d="M646 999L660 990M657 990L664 984"/><circle cx="641" cy="1000" r="1" class="b"/>
<use href="#wf" x="662" y="1002.5"/><use href="#wd" x="687.6" y="1016.4"/>
<g transform="translate(729.4 1036) rotate(28)"><use href="#ibolt" transform="scale(.9)"/></g>
<path class="w" d="M738 1035L758.3 1028 759 1036 744 1045 738 1042Z"/><path class="m" d="M757 1028V1052M760 1028L758 1050"/><circle cx="758" cy="1055" r="1.5" class="b"/>
<g transform="translate(814 1065) rotate(30)"><path class="w" d="M-16-3.5L-3-4V4L-16 3.5Z"/><ellipse rx="4" ry="6" class="w"/></g>
<path class="w" d="M800.8 1006L841 1021 839 1023 798 1009ZM775 989L783 997 800 1007"/>
<path class="m" d="M775 990L783 998 799 1008M780 985L787 994M785 988L789 995M833 1011L834 1003Q838 992 850 988L856 984M835 1003Q837 998 846 996M841 1021L850 1013"/>
<path class="w" d="M856 981H866V983H858V986H866V988H856Z"/><path class="w" d="M846 996H853V998H848V1000H853V1002H846Z"/>
<path class="b" d="M846 1014L855 1006 862 1012 853 1019Z"/>
<use href="#nut" x="866" y="899.6"/><use href="#wf" x="901.8" y="918.5"/>
<path class="m" d="M876.7 905.6L884.4 910M891 913.4L897.8 916.7M906.7 921L912.2 924M918.9 927.8L923.3 930M946.7 939.6L953.3 943M960.4 946.2L966.7 949.4M1004.4 969.4L1009 971.5M1032.9 981.8L1040 985.6"/>
<g transform="translate(980 956) rotate(27)"><path class="w" d="M-14-4L0-6 4-6V-4H10Q13 0 10 4H4V6L-2 6-14 4Q-16 0-14-4Z"/><path class="m" d="M-10-4V4M-6-5V5M-1-6V6M3-6V6"/></g>
<ellipse cx="1012" cy="973" rx="8" ry="10" transform="rotate(15 1012 973)" class="w"/><ellipse cx="1017.3" cy="974.9" rx="8.5" ry="10.5" transform="rotate(15 1017 975)" class="w"/><ellipse cx="1017.3" cy="974.9" rx="5" ry="6.5" transform="rotate(15 1017 975)" class="b"/><circle cx="1018" cy="975" r="2" fill="#fff"/>
<ellipse cx="1044" cy="987.8" rx="3" ry="6" transform="rotate(12 1044 988)" class="m" stroke-width="1.6"/>

<!-- leaders -->
<path class="t" d="M437 122.4H455.7M473 28V55M496.5 43V69M538.7 56V83M576.4 84V111M620 95.6V123.7M644.4 122.4V146.6M672.3 135V155.6M701.5 150.4V178.5M772.6 38V74M796.4 57V84M822 69V95.6M732.8 107.9H768.5M793.3 127.5V153M819.5 136.4V165M758.3 204.8H792.3M597.8 164.5V192.5M621.6 174.7V204M642.7 190V219M671.6 195V227M699.5 211.6V232M710.7 266.7H744M710.7 296.6H744M710.7 327H744.7M775.3 253.7V281.8M793.3 260V302M825.3 278V307
M917 58V90.8M940.5 73V95.2M991.8 48.5H1024.4M993 89.9H1025.7M992.5 118.4H1025.7M950.5 328.3H968.3M833 477H860M910.7 565.2H934.5M950 710H964.5M924.5 735H939M924.5 765.5H940M1060.7 909V942M863.8 907.8V926.7M901.8 925.6V943.4M979.3 965.6V989M1011 985.6V1004.5M1043.3 993.4V1015M814.9 976.7V1006.2
M680 985.8H697.8M661.4 1008.6V1036.4M687.6 1022V1049.8M716.5 1036.4V1061.4M763.4 1030.9H782.1M817.8 1064.8H836.5M540.7 1078.7H575.4
M395 553H425M411 1011.3H430M401 1030.6H420M400 1059.7H417.8M355 1033V1064.6M325.5 1007.5V1036.6M289.5 1024.3V1055.7M479.3 990.7V1013M336 773.4V811.5M307 795.8V825M277.7 799.9V838.4M247 814.9V854M280 911.2V930M325.5 885.4V904.5M355 890V921.3
M195 129.3H228.7M196.4 170H230M195.6 199.5H228.7M101.9 217.3V242.9M134 234V260M188.8 255.6V279.8M220.8 276V302.8M239.4 281V323M271.3 299V325.8M54.7 331H87M109.4 434.2V462M388.6 425V456M356.4 417.6V447M328.9 427.8V459.7M293.2 448.2V477.6
M195 530H229M196 559H230M196 581H230M203 609H238M93 961H126M85 986H120M84 1011H118M82 1039H116
M1196.7 68.4H1224.5M1250.8 49V75.9M1275.7 58V86.3M1251.7 116H1284.5M1241.2 187.5H1275.2M1241.2 208.3H1274.9M1245 235H1275.7M1332.3 186.6H1365M1342.5 211.3H1376.8M1351.9 233.6H1385.6M1365 253.6H1394.4M1438.9 176.2H1472M1440.6 219.6H1473.4M1441.2 248.5H1473.4M1259 258.3H1294.8M1337.2 304H1371M1389.4 22.3V46M1416.3 53.6V86.3M1444.7 65.5V96.7M1477 83.3V114.6
M1331 396H1365.2M1356.3 434.8H1390M1381.6 476.5H1414.9M1389 514.6H1422.3M1401.5 537.5H1434.5M1416.7 563.4H1450M1420.2 638.7V673M1458.9 609V649M1482 597V631.2M1514.7 579V613.4M1328 713H1362M1095 570H1122
M1312.4 1087H1346M1337.2 955.8V996M1368.6 944.7V982.2M1400.2 982.2V1010M1423 918.3V955.8M1468.5 948.9V978"/>
<!-- bottom right -->
<g transform="translate(1338 1005)"><path class="w" d="M3-6L14-10 17-4.5 6.5 2Z"/><ellipse rx="6.5" ry="7" class="w"/><circle cx="-2" cy="0" r="1.2" class="b"/></g>
<use href="#wd" x="1372.4" y="987.2"/><use href="#wf" x="1397.3" y="975.3"/>
<path class="w" d="M1421.3 957.2L1426.7 961.4 1442 968 1447 969.7V978L1439.8 975.3 1423.7 968.3 1421.3 965Z"/><circle cx="1424" cy="962" r="1.2" class="m"/><circle cx="1444" cy="974" r="1.2" class="m"/>
<use href="#wf" x="1464.7" y="940.5"/>
<path class="m" d="M1355 996L1368 990M1380.6 983.6L1392.9 978M1403.2 972.5L1414.9 966.4M1426.6 960.5L1438.3 954.4M1450 948L1460.3 943.3M1472.6 935.8L1483.7 930.2M1496.9 923.8L1509.5 917.7"/>

<!-- circles -->
<g class="w"><circle cx="430.2" cy="51" r="11.5"/><circle cx="559.4" cy="149" r="11.5"/><circle cx="756" cy="155.6" r="11.5"/><circle cx="909.7" cy="142.3" r="11.5"/><circle cx="916" cy="173.5" r="11.5"/><circle cx="886.7" cy="186" r="11.5"/><circle cx="190" cy="291.3" r="11.5"/><circle cx="46.9" cy="447" r="11.5"/><circle cx="355.5" cy="878.7" r="11.5"/><circle cx="478.2" cy="979.5" r="11.5"/><circle cx="613.8" cy="1054" r="11.5"/><circle cx="934" cy="937.4" r="11.5"/><circle cx="1058.7" cy="696.6" r="11.5"/><circle cx="1520.9" cy="915" r="11.5"/></g>
<g style="font-size:20px">
<text x="430.2" y="58">A</text><text x="559.4" y="156">B</text><text x="756" y="162.6">C</text><text x="909.7" y="149.3">A</text><text x="916" y="180.5">B</text><text x="886.7" y="193">C</text><text x="190" y="298.3">F</text><text x="46.9" y="454">G</text><text x="355.5" y="885.7">G</text><text x="478.2" y="986.5">F</text><text x="613.8" y="1061">E</text><text x="934" y="944.4">E</text><text x="1058.7" y="703.6">D</text><text x="1520.9" y="922">D</text>
</g>

<!-- labels -->
<g class="l" transform="scale(.9945)">
<text x="476" y="21">10</text><text x="499" y="41">11</text><text x="543" y="54">27</text><text x="581" y="82">24</text><text x="624" y="93">25</text><text x="650" y="121">24</text><text x="677" y="125">23</text><text x="706" y="149">19</text><text x="778" y="37">12</text><text x="801" y="55">13</text><text x="826" y="67">14</text><text x="725" y="115">12</text><text x="797" y="173">13</text><text x="826" y="186">14</text><text x="808" y="213">18</text><text x="601" y="210">21</text><text x="626" y="222">24</text><text x="647" y="239">22</text><text x="676" y="245">24</text><text x="704" y="253">20</text><text x="703" y="276">17</text><text x="701" y="305">16</text><text x="700" y="338">15</text><text x="781" y="304">17</text><text x="800" y="324">16</text><text x="833" y="327">15</text><text x="427" y="131">28</text>
<text x="922" y="55">11</text><text x="946" y="71">10</text><text x="1040" y="58">7</text><text x="1040" y="99">8</text><text x="1040" y="129">9</text><text x="979" y="339">6</text><text x="821" y="487">2</text><text x="910" y="576">3</text><text x="980" y="723">17</text><text x="917" y="747">16</text><text x="918" y="780">75</text><text x="1081" y="968">5,71</text><text x="869" y="951">65</text><text x="905" y="966">64</text><text x="986" y="1013">63</text><text x="1017" y="1028">62</text><text x="1049" y="1038">38</text><text x="820" y="980">61</text><text x="714" y="1002">58</text><text x="798" y="1047">59</text><text x="852" y="1081">60</text><text x="723" y="1083">31</text><text x="691" y="1074">16</text><text x="665" y="1061">17</text><text x="597" y="1094">4,70</text><text x="442" y="1024">58</text><text x="434" y="1045">59</text><text x="432" y="1074">60</text><text x="357" y="1083">17</text><text x="328" y="1011">16</text><text x="289" y="1028">31</text><text x="325" y="889">16</text><text x="283" y="913">33</text><text x="249" y="816">26</text><text x="283" y="801">49</text><text x="311" y="797">48</text><text x="339" y="775">34</text><text x="506" y="784">67</text><text x="386" y="564">1</text><text x="1080" y="581">35</text><text x="1382" y="726">36</text><text x="1431" y="697">37</text><text x="1467" y="670">48</text><text x="1492" y="653">49</text><text x="1526" y="638">50</text><text x="1409" y="446">41</text><text x="1436" y="489">42</text><text x="1444" y="526">43</text><text x="1456" y="549">44</text><text x="1472" y="576">45</text><text x="1385" y="408">39</text><text x="1392" y="316">57</text><text x="1252.5" y="268">40</text><text x="1236" y="245">31</text><text x="1233" y="218">16</text><text x="1231" y="197">17</text><text x="1387" y="196">47</text><text x="1397" y="222">48</text><text x="1407" y="243">49</text><text x="1416" y="265">50</text><text x="1495" y="186">46</text><text x="1493" y="227">13</text><text x="1493" y="258">14</text><text x="1243" y="125">51</text><text x="1191" y="76">12</text><text x="1257" y="46">13</text><text x="1283" y="56">14</text><text x="1397" y="22">55</text><text x="1424" y="51">54</text><text x="1453" y="63">53</text><text x="1487" y="82">52</text><text x="1432" y="922">34</text><text x="1476" y="1000">73</text><text x="1379" y="946">49</text><text x="1408" y="1033">48</text><text x="1346" y="961">26</text><text x="1382" y="1103">56,72</text>
<text x="243" y="137">29</text><text x="247" y="179">16</text><text x="246" y="208">17</text><text x="100" y="264">74</text><text x="137" y="281">66</text><text x="224" y="325">17</text><text x="243" y="346">16</text><text x="276" y="348">29</text><text x="101" y="341">69</text><text x="110" y="483">68</text><text x="295" y="497">29</text><text x="330" y="479">16</text><text x="358" y="466">17</text><text x="390" y="474">30</text><text x="185" y="541">31</text><text x="185" y="569">16</text><text x="185" y="592">16</text><text x="192" y="619">32</text><text x="138" y="974">32</text><text x="134" y="1001">16</text><text x="130" y="1024">16</text><text x="129" y="1055">31</text>
</g>
</svg>
</body></html>
